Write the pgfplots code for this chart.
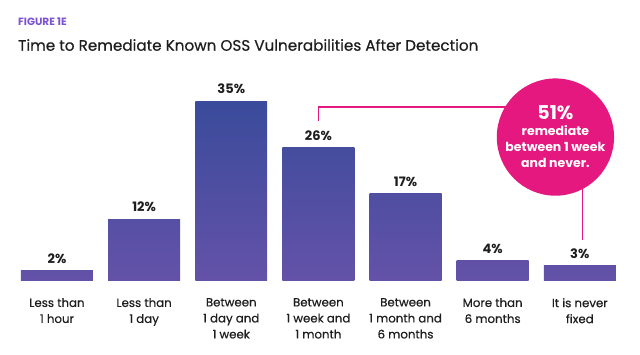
\documentclass[border=0pt]{standalone}
\usepackage{fontspec}
\setmainfont{Poppins}
\newfontfamily\medfont{Poppins}[FakeBold=0.5]
\usepackage{pgfplots}
\pgfplotsset{compat=1.18}
\definecolor{barTop}{HTML}{3A4B9B}
\definecolor{barBot}{HTML}{6452A8}
\definecolor{pinkc}{HTML}{E4187F}
\definecolor{figpurple}{HTML}{7C52D4}
\definecolor{txt}{HTML}{1E1E1E}
\newcommand{\onebar}[3]{\addplot[ybar, bar width=0.826, draw=none, top color=barTop!#3!barBot, bottom color=barBot,
  nodes near coords={#2\%}, nodes near coords style={font=\fontsize{13}{14}\selectfont\bfseries, text=txt, anchor=south, inner sep=0pt, yshift=7pt}] coordinates {(#1,#2)};}
\begin{document}
\begin{tikzpicture}[x=1pt,y=1pt]
\useasboundingbox (0,0) rectangle (640,355);
\node[anchor=west, font=\fontsize{10.5}{12}\selectfont\bfseries, text=figpurple, inner sep=0pt] at (18,333) {FIGURE 1E};
\node[anchor=west, font=\fontsize{15.2}{19}\selectfont\medfont, text=txt, inner sep=0pt] at (18,310) {Time to Remediate Known OSS Vulnerabilities After Detection};
\begin{axis}[at={(13.4pt,74pt)}, anchor=south west, scale only axis, width=610pt, height=196pt,
  xmin=-0.5, xmax=6.5, ymin=0, ymax=38.13, clip=false,
  axis line style={draw=none}, tick style={draw=none}, ytick=\empty,
  xtick={0,1,2,3,4,5,6},
  xticklabels={{Less than\\1 hour},{Less than\\1 day},{Between\\1 day and\\1 week},{Between\\1 week and\\1 month},{Between\\1 month and\\6 months},{More than\\6 months},{It is never\\fixed}},
  xticklabel style={align=center, anchor=north, inner sep=0pt, yshift=-17pt, text=txt, font=\fontsize{11.8}{16}\selectfont\medfont}]
\onebar{0}{2}{6}
\onebar{1}{12}{34}
\onebar{2}{35}{100}
\onebar{3}{26}{74}
\onebar{4}{17}{49}
\onebar{5}{4}{11}
\onebar{6}{3}{9}
\draw[pinkc, line width=1.4pt] (axis cs:3,31.1) |- (axis cs:5.72,33.85);
\draw[pinkc, line width=1.4pt] (axis cs:6.034,28) -- (axis cs:6.034,7.98);
\node[circle, fill=pinkc, minimum size=105pt, inner sep=0pt, text=white, align=center, font=\fontsize{12.5}{16}\selectfont\bfseries] at (axis cs:5.72,28) {{\fontsize{19}{23}\selectfont\bfseries 51\%}\\remediate\\between 1 week\\and never.};
\end{axis}
\end{tikzpicture}
\end{document}
